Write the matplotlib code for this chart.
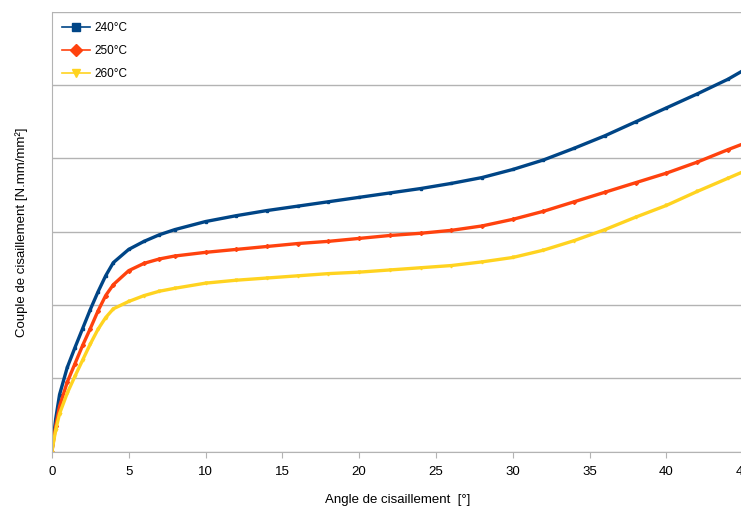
import matplotlib.pyplot as plt
import numpy as np

plt.rcParams['font.family'] = ['Liberation Sans', 'DejaVu Sans']

angle = [0, 0.25, 0.5, 1, 1.5, 2, 2.5, 3, 3.5, 4, 5, 6, 7, 8, 10, 12, 14, 16, 18,
         20, 22, 24, 26, 28, 30, 32, 34, 36, 38, 40, 42, 44, 45]

c240 = [0, 0.45, 0.78, 1.15, 1.42, 1.68, 1.94, 2.18, 2.40, 2.58, 2.76, 2.87, 2.96,
        3.03, 3.14, 3.22, 3.29, 3.35, 3.41, 3.47, 3.53, 3.59, 3.66, 3.74, 3.85,
        3.98, 4.14, 4.31, 4.50, 4.69, 4.88, 5.08, 5.20]
c250 = [0, 0.35, 0.62, 0.95, 1.20, 1.45, 1.68, 1.92, 2.13, 2.28, 2.47, 2.57, 2.63,
        2.67, 2.72, 2.76, 2.80, 2.84, 2.87, 2.91, 2.95, 2.98, 3.02, 3.08, 3.17,
        3.28, 3.41, 3.54, 3.67, 3.80, 3.95, 4.12, 4.20]
c260 = [0, 0.30, 0.52, 0.80, 1.03, 1.25, 1.47, 1.67, 1.83, 1.95, 2.05, 2.13, 2.19,
        2.23, 2.30, 2.34, 2.37, 2.40, 2.43, 2.45, 2.48, 2.51, 2.54, 2.59, 2.65,
        2.75, 2.88, 3.03, 3.20, 3.36, 3.55, 3.73, 3.82]

labels = ["240°C", "250°C", "260°C"]
colors = ["#004586", "#ff420e", "#ffd320"]
markers = ["s", "D", "v"]

fig = plt.figure(figsize=(7.41, 5.14), dpi=100)
ax = fig.add_axes([0.070, 0.121, 0.933, 0.856])

for y, lab, col, mk in zip([c240, c250, c260], labels, colors, markers):
    ax.plot(angle, y, color=col, marker=mk, markersize=2, linewidth=2.4, label=lab)

ax.set_xlim(0, 45)
ax.set_ylim(0, 6)
ax.set_xticks(np.arange(0, 46, 5))
ax.set_yticks(np.arange(0, 7, 1))
ax.set_yticklabels([])
ax.tick_params(axis='y', length=0)
ax.tick_params(axis='x', length=4, color='#b3b3b3', labelsize=9.5, pad=6)
ax.grid(axis='y', color='#b3b3b3', linewidth=1)
for s in ax.spines.values():
    s.set_color('#b3b3b3')
ax.spines['top'].set_visible(False)

ax.set_xlabel("Angle de cisaillement  [°]", fontsize=9.5, labelpad=12)
ax.set_ylabel("Couple de cisaillement [N.mm/mm²]", fontsize=9.5, labelpad=14)

leg = ax.legend(loc='upper left', frameon=False, fontsize=8.5, markerscale=3,
                handlelength=2.3, borderaxespad=0.5, labelspacing=0.9,
                handletextpad=0.4)
for line in leg.get_lines():
    line.set_linewidth(1.2)

fig.savefig("out.png", dpi=100)
